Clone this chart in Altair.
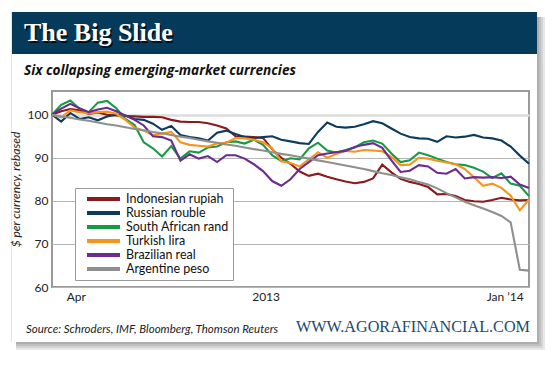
import altair as alt
import pandas as pd

dates = pd.date_range("2012-02-10", periods=53, freq="14D")

series_names = ["Indonesian rupiah", "Russian rouble", "South African rand",
                "Turkish lira", "Brazilian real", "Argentine peso"]
series_colors = ["#8b1a1e", "#0d3b5c", "#179a45", "#f7941d", "#6a2c8f", "#8f8f8f"]

rupiah = [100, 100.8, 101.3, 101.0, 100.2, 100.5, 100.0, 99.8, 99.7, 99.6,
          99.5, 99.5, 99.4, 98.8, 98.4, 98.3, 98.3, 98.0, 97.5, 96.8,
          95.0, 94.9, 94.8, 94.6, 92.0, 90.0, 88.6, 86.8, 85.8, 86.3,
          85.6, 85.0, 84.5, 84.1, 84.4, 85.2, 88.4, 86.6, 85.1, 84.4,
          83.9, 83.2, 81.5, 81.6, 81.1, 80.2, 79.9, 79.8, 80.2, 80.7,
          80.3, 80.1, 80.2]
rouble = [100, 98.4, 100.4, 99.0, 99.4, 98.7, 99.6, 100.0, 99.8, 99.0,
          98.8, 97.9, 96.5, 97.4, 95.3, 94.8, 94.5, 94.0, 95.8, 96.3,
          95.5, 94.8, 94.6, 94.8, 95.0, 94.2, 93.8, 93.4, 93.2, 96.0,
          98.2, 97.2, 97.0, 97.2, 97.8, 98.5, 98.0, 96.8, 95.6, 94.8,
          94.5, 94.4, 93.7, 95.0, 94.7, 94.9, 95.3, 94.7, 94.5, 94.0,
          92.6, 90.5, 88.6]
rand = [100, 102.3, 103.3, 101.4, 100.6, 102.8, 103.2, 101.5, 99.0, 97.6,
        93.6, 92.2, 90.3, 92.7, 89.8, 91.5, 91.2, 92.4, 92.6, 93.6,
        93.8, 93.3, 94.2, 93.0, 90.6, 89.2, 89.9, 89.6, 92.2, 93.5,
        91.7, 91.2, 91.8, 92.4, 93.6, 94.0, 93.3, 91.0, 89.0, 89.4,
        91.2, 90.6, 89.8, 89.0, 88.5, 88.3, 87.7, 86.8, 85.3, 86.4,
        84.0, 83.5, 81.1]
lira = [100, 99.4, 101.0, 100.6, 100.3, 100.6, 100.7, 100.2, 98.8, 97.0,
        96.3, 95.3, 95.6, 96.0, 93.6, 93.0, 92.8, 92.6, 93.3, 93.5,
        94.6, 94.5, 94.2, 93.6, 92.2, 89.2, 88.8, 88.0, 89.6, 91.3,
        90.0, 90.9, 91.6, 91.4, 91.8, 91.7, 91.5, 90.2, 88.3, 88.4,
        90.0, 89.8, 89.3, 88.9, 88.5, 87.4, 85.5, 83.5, 84.0, 83.0,
        81.2, 77.8, 80.3]
real = [100, 101.4, 102.5, 101.5, 100.6, 101.2, 101.6, 100.8, 99.8, 98.8,
        97.5, 95.0, 94.8, 94.0, 89.3, 90.8, 89.8, 90.4, 89.0, 90.6,
        90.6, 89.8, 88.5, 86.9, 84.6, 83.5, 85.0, 87.4, 89.0, 90.6,
        91.0, 91.3, 91.6, 92.5, 93.0, 93.4, 92.3, 89.4, 86.7, 87.0,
        88.3, 88.0, 86.5, 86.3, 87.4, 85.2, 85.5, 85.4, 85.5, 85.3,
        85.6, 83.8, 83.0]
peso = [100, 99.6, 99.3, 98.9, 98.6, 98.2, 97.8, 97.5, 97.1, 96.7,
        96.4, 96.0, 95.7, 95.3, 94.9, 94.6, 94.2, 93.8, 93.5, 93.1,
        92.8, 92.4, 92.0, 91.7, 91.3, 90.9, 90.6, 90.2, 89.8, 89.4,
        89.0, 88.6, 88.2, 87.8, 87.4, 86.9, 86.4, 86.0, 85.5, 85.0,
        84.4, 83.8, 82.9, 81.8, 80.8, 79.8, 79.0, 78.2, 77.4, 76.5,
        75.0, 64.0, 63.8]

y_ticks = [60, 70, 80, 90, 100]
x_tick_labels = ["Apr", "2013", "Jan \u201914"]

title_text = "The Big Slide"
subtitle_text = "Six collapsing emerging-market currencies"
source_text = "Source: Schroders, IMF, Bloomberg, Thomson Reuters"
site_text = "WWW.AGORAFINANCIAL.COM"
y_title = "$ per currency, rebased"

rows = []
for name, vals in zip(series_names, [rupiah, rouble, rand, lira, real, peso]):
    for d, v in zip(dates, vals):
        rows.append({"date": d, "series": name, "value": v})
df = pd.DataFrame(rows)

one = pd.DataFrame({"a": [0]})

W, H = 477, 196


def box(x, x2, y, y2, color, opacity=1.0):
    return alt.Chart(one).mark_rect(color=color, opacity=opacity).encode(
        x=alt.value(x), x2=alt.value(x2), y=alt.value(y), y2=alt.value(y2))


def label(text, x, y, **kw):
    return alt.Chart(one).mark_text(text=text, **kw).encode(
        x=alt.value(x), y=alt.value(y))


# card shadow (outside the white card) and header band
decor = []
for s in [2, 4, 6, 8]:
    decor.append(box(485, 485 + s, -74, 251, "#000000", 0.09))
    decor.append(box(-36, 485 + s, 251, 251 + s, "#000000", 0.09))
decor.append(box(-41, -40, -79, 251, "#000000", 0.10))
decor.append(box(-40, 485, -79, -37, "#063a5a"))

texts = [
    label(title_text, -26.5, -48.5, font="Liberation Serif", fontSize=26,
          fontWeight="bold", color="#000000", opacity=0.75, align="left",
          baseline="alphabetic"),
    label(title_text, -28, -50, font="Liberation Serif", fontSize=26,
          fontWeight="bold", color="#ffffff", align="left",
          baseline="alphabetic"),
    label(subtitle_text, -28, -16, font="Open Sans", fontSize=13.6,
          fontWeight="bold", fontStyle="italic", color="#111111",
          align="left", baseline="alphabetic"),
    label(source_text, -26, 242, font="Lato", fontSize=11.5,
          fontStyle="italic", color="#222222", align="left",
          baseline="alphabetic"),
    label(site_text, 478, 241, font="Liberation Serif", fontSize=16.2,
          color="#1b4a6e", align="right", baseline="alphabetic"),
]

x_values = [alt.DateTime(year=2012, month=4, date=1),
            alt.DateTime(year=2013, month=1, date=1),
            alt.DateTime(year=2014, month=1, date=1)]

label_expr = ("month(datum.value) == 3 ? '%s' : (year(datum.value) == 2013 ? '%s' : '%s')"
              % tuple(x_tick_labels))

lines = alt.Chart(df).mark_line(strokeWidth=2.1).encode(
    x=alt.X("date:T",
            scale=alt.Scale(domain=[alt.DateTime(year=2012, month=2, date=10),
                                    alt.DateTime(year=2014, month=2, date=7)]),
            axis=alt.Axis(title=None, values=x_values, labelExpr=label_expr,
                          grid=False, ticks=False, domain=False,
                          labelPadding=4, labelFontSize=12, labelFont="Lato",
                          labelColor="#222222",
                          labelAlign={"condition": {"test": "month(datum.value) == 3",
                                                    "value": "right"},
                                      "value": "center"})),
    y=alt.Y("value:Q",
            scale=alt.Scale(domain=[60, 105.5], nice=False, zero=False),
            axis=alt.Axis(title=y_title, values=y_ticks, ticks=False,
                          domain=False, labelPadding=4, labelFontSize=12,
                          labelFont="Lato", labelColor="#222222",
                          titleFont="Lato", titleFontSize=12,
                          titleFontStyle="italic", titleFontWeight="normal",
                          titleColor="#222222", titlePadding=5,
                          gridColor={"condition": {"test": "datum.value == 100",
                                                   "value": "#dddddd"},
                                     "value": "#b5b5b5"},
                          gridWidth={"condition": {"test": "datum.value == 100",
                                                   "value": 2.5},
                                     "value": 1})),
    color=alt.Color("series:N",
                    scale=alt.Scale(domain=series_names, range=series_colors),
                    legend=alt.Legend(orient="none", legendX=23, legendY=97,
                                      title=None, symbolType="stroke",
                                      symbolStrokeWidth=4, symbolSize=1089,
                                      symbolOffset=6, clipHeight=14,
                                      rowPadding=0, labelOffset=4,
                                      labelFont="Lato", labelFontSize=12.5,
                                      labelColor="#111111",
                                      labelExpr="datum.label + '            '",
                                      fillColor="#ffffff", strokeColor="#9a9a9a",
                                      padding=4)),
)

chart = alt.layer(*decor, lines, *texts).properties(
    width=W, height=H,
    autosize=alt.AutoSizeParams(type="none"),
    padding={"left": 44, "top": 83, "right": 17, "bottom": 65},
    background="#ffffff",
).configure_view(stroke="#9a9a9a", strokeWidth=2)

chart.save("out.html", embed_options={"renderer": "svg", "actions": False})
